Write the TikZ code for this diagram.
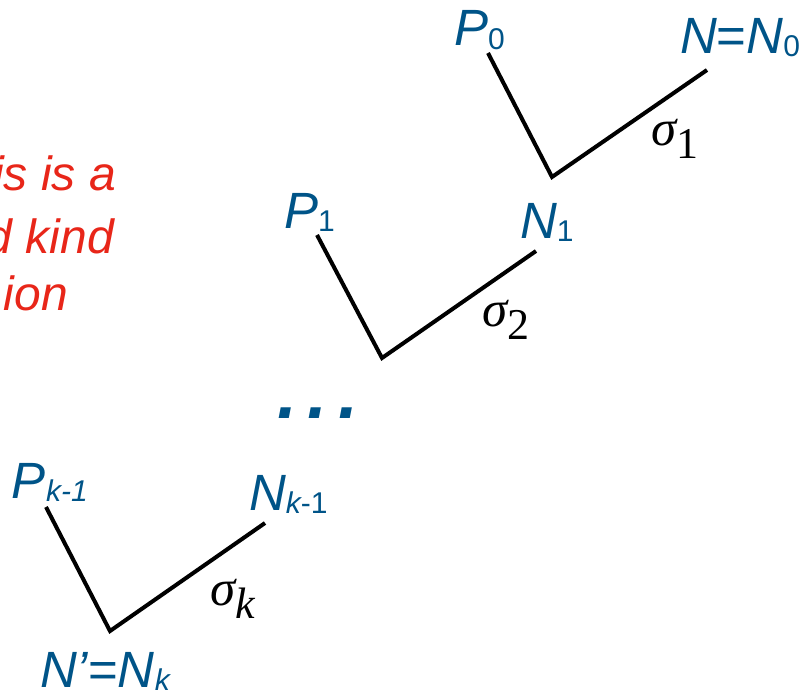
\documentclass[tikz,border=0pt]{standalone}
\usepackage{fontspec}
\setmainfont{Liberation Sans}
\newfontfamily\tms{Liberation Serif}
\definecolor{lblblue}{RGB}{0,84,136}
\definecolor{notered}{RGB}{232,38,25}
\newcommand{\lsub}[1]{\raisebox{-3pt}{\fontsize{30}{30}\selectfont #1}}
\newcommand{\ssub}[1]{\raisebox{-13pt}{\fontsize{44}{44}\selectfont #1}}
\begin{document}
\begin{tikzpicture}[x=1pt,y=-1pt,
  lbl/.style={anchor=base west, inner sep=0pt, outer sep=0pt, text=lblblue, font=\fontsize{51}{51}\selectfont},
  sig/.style={anchor=base west, inner sep=0pt, outer sep=0pt, font=\tms\fontsize{51}{51}\selectfont},
  arm/.style={line width=4pt, line join=miter, line cap=butt},
  note/.style={anchor=base east, inner sep=0pt, outer sep=0pt, text=notered, font=\fontsize{48}{48}\selectfont\itshape},
  dots/.style={anchor=base west, inner sep=0pt, outer sep=0pt, text=lblblue, font=\fontsize{72}{72}\selectfont\bfseries\itshape}]
\useasboundingbox (0,0) rectangle (800,693);

% red note (cut off at the left edge)
\node[note] (n1) at (116,190) {is is a};
\node[note] (n2) at (114,253) {d kind};
\node[note] (n3) at (68,310) {ion};

% first step
\coordinate (a1) at (488,53);
\coordinate (v1) at (552,177);
\coordinate (b1) at (707,70);
\draw[arm] (a1) -- (v1) -- (b1);
\node[lbl] (P0) at (454,46) {\itshape P\lsub{\upshape 0}};
\node[lbl] (N0) at (680,53) {\itshape N\upshape =\itshape N\lsub{\upshape 0}};
\node[sig] (s1) at (651,145) {\itshape σ\ssub{\upshape 1}};
\node[lbl] (N1) at (520,238) {\itshape N\lsub{\upshape 1}};

% second step
\coordinate (a2) at (317,235);
\coordinate (v2) at (382,358);
\coordinate (b2) at (536,251);
\draw[arm] (a2) -- (v2) -- (b2);
\node[lbl] (P1) at (284,228) {\itshape P\lsub{\upshape 1}};
\node[sig] (s2) at (482,326) {\itshape σ\ssub{\upshape 2}};

% dots
\node[dots] (dd) at (277,418) {.\hspace{11pt}.\hspace{11pt}.};

% last step
\coordinate (a3) at (46,507);
\coordinate (v3) at (110,631);
\coordinate (b3) at (265,523);
\draw[arm] (a3) -- (v3) -- (b3);
\node[lbl] (Pk) at (12,498) {\itshape P\lsub{\itshape k-1}};
\node[lbl] (Nk1) at (249,510) {\itshape N\lsub{\itshape k\upshape -1}};
\node[sig] (sk) at (210,605) {\itshape σ\ssub{\itshape k}};
\node[lbl] (Nk) at (40,687) {\itshape N’\upshape =\itshape N\lsub{\itshape k}};
\end{tikzpicture}
\end{document}
